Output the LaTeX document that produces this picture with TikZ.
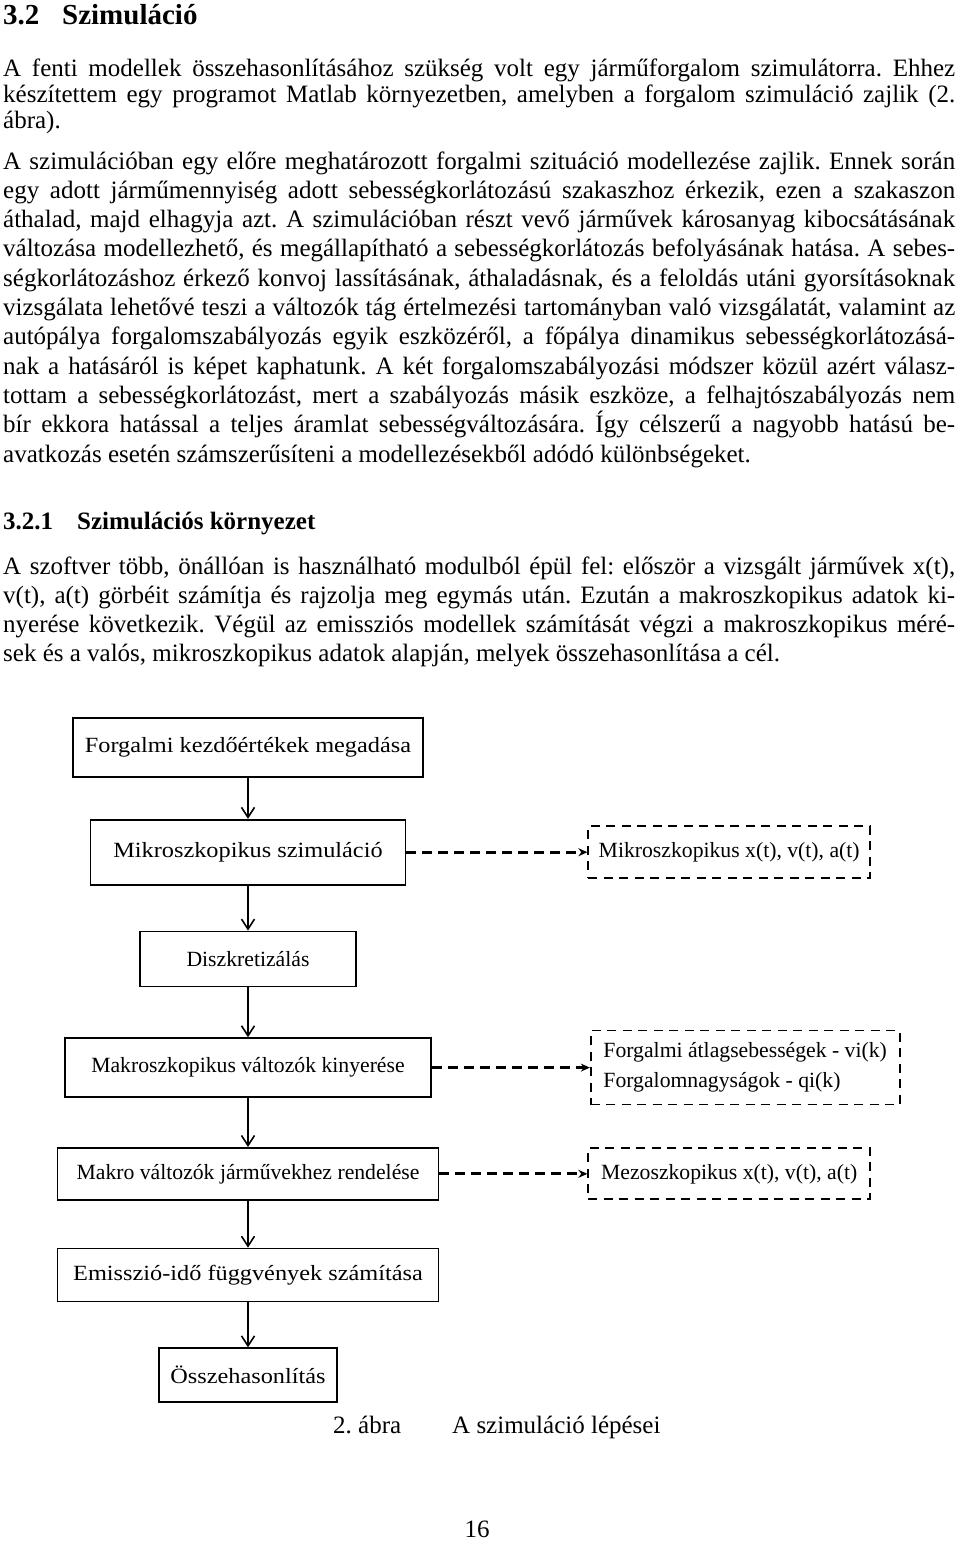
\documentclass[tikz,border=0pt]{standalone}
\usepackage{fontspec}
\setmainfont{Liberation Serif}
\newfontfamily\palfont[FakeStretch=1.12]{Liberation Serif}
\usetikzlibrary{positioning}
\usetikzlibrary{arrows.meta}

\newcommand{\jline}[1]{\noindent\makebox[\linewidth][s]{#1}\par}
\frenchspacing

\begin{document}
\begin{tikzpicture}[
        x=1pt, y=-1pt,
        para/.style={anchor=base west, inner sep=0pt, text width=952pt, align=justify, font=\fontsize{25}{29.3}\selectfont},
        box/.style={rectangle, draw=black, line width=1.7pt, inner sep=0pt, align=center, font=\fontsize{21.7}{26}\selectfont},
        palbox/.style={box, font=\fontsize{21.7}{26}\palfont},
        outbox/.style={box, dash pattern=on 9pt off 6.5pt},
        flow/.style={-{Straight Barb[length=10pt, width=13pt, line width=1.6pt]}, line width=2.8pt},
        dataflow/.style={-{Stealth[length=9pt, width=8pt]}, line width=3.2pt, dash pattern=on 10pt off 6pt}
    ]
    \useasboundingbox (0,0) rectangle (960,1543);

    % text of the page
    \node[anchor=base west, inner sep=0pt, font=\fontsize{29}{34}\bfseries] (sechead) at (3,24) {\makebox[59pt][l]{3.2}Szimuláció};
    \node[para, font=\fontsize{25}{26.2}\selectfont] (intro) at (3,76) {%
        \jline{A fenti modellek összehasonlításához szükség volt egy járműforgalom szimulátorra. Ehhez}
        \jline{készítettem egy programot Matlab környezetben, amelyben a forgalom szimuláció zajlik (2.}
        \noindent ábra).\par};
    \node[para] (simtext) at (3,169) {%
        \jline{A szimulációban egy előre meghatározott forgalmi szituáció modellezése zajlik. Ennek során}
        \jline{egy adott járműmennyiség adott sebességkorlátozású szakaszhoz érkezik, ezen a szakaszon}
        \jline{áthalad, majd elhagyja azt. A szimulációban részt vevő járművek károsanyag kibocsátásának}
        \jline{változása modellezhető, és megállapítható a sebességkorlátozás befolyásának hatása. A sebes-}
        \jline{ségkorlátozáshoz érkező konvoj lassításának, áthaladásnak, és a feloldás utáni gyorsításoknak}
        \jline{vizsgálata lehetővé teszi a változók tág értelmezési tartományban való vizsgálatát, valamint az}
        \jline{autópálya forgalomszabályozás egyik eszközéről, a főpálya dinamikus sebességkorlátozásá-}
        \jline{nak a hatásáról is képet kaphatunk. A két forgalomszabályozási módszer közül azért válasz-}
        \jline{tottam a sebességkorlátozást, mert a szabályozás másik eszköze, a felhajtószabályozás nem}
        \jline{bír ekkora hatással a teljes áramlat sebességváltozására. Így célszerű a nagyobb hatású be-}
        \noindent avatkozás esetén számszerűsíteni a modellezésekből adódó különbségeket.\par};
    \node[anchor=base west, inner sep=0pt, font=\fontsize{25}{30}\bfseries] (subhead) at (3,529) {\makebox[74pt][l]{3.2.1}Szimulációs környezet};
    \node[para] (envtext) at (3,574) {%
        \jline{A szoftver több, önállóan is használható modulból épül fel: először a vizsgált járművek x(t),}
        \jline{v(t), a(t) görbéit számítja és rajzolja meg egymás után. Ezután a makroszkopikus adatok ki-}
        \jline{nyerése következik. Végül az emissziós modellek számítását végzi a makroszkopikus méré-}
        \noindent sek és a valós, mikroszkopikus adatok alapján, melyek összehasonlítása a cél.\par};

    % steps of the simulation
    \node[palbox, minimum width=350pt, minimum height=59pt] (init) at (248,747.5) {Forgalmi kezdőértékek megadása};
    \node[palbox, minimum width=315pt, minimum height=65pt] (micro) [below=41pt of init] {Mikroszkopikus szimuláció};
    \node[box, minimum width=216pt, minimum height=55pt] (discr) [below=45pt of micro] {Diszkretizálás};
    \node[box, minimum width=366pt, minimum height=59pt] (macro) [below=50pt of discr] {Makroszkopikus változók kinyerése};
    \node[box, minimum width=381pt, minimum height=52pt] (assign) [below=49pt of macro] {Makro változók járművekhez rendelése};
    \node[palbox, minimum width=381pt, minimum height=53pt] (emis) [below=47pt of assign] {Emisszió-idő függvények számítása};
    \node[palbox, minimum width=178pt, minimum height=54pt] (comp) [below=45pt of emis] {Összehasonlítás};

    % outputs
    \node[outbox, minimum width=282pt, minimum height=52pt] (microout) [right=181pt of micro] {Mikroszkopikus x(t), v(t), a(t)};
    \node[outbox, minimum width=309pt, minimum height=74pt, align=left, font=\fontsize{21.7}{30}\selectfont] (macroout) [right=158pt of macro] {Forgalmi átlagsebességek - vi(k)\\Forgalomnagyságok - qi(k)};
    \node[outbox, minimum width=282pt, minimum height=51pt] (mesoout) [right=148pt of assign] {Mezoszkopikus x(t), v(t), a(t)};

    \draw[flow] (init) -- (micro);
    \draw[flow] (micro) -- (discr);
    \draw[flow] (discr) -- (macro);
    \draw[flow] (macro) -- (assign);
    \draw[flow] (assign) -- (emis);
    \draw[flow] (emis) -- (comp);

    \draw[dataflow] (micro) -- (microout);
    \draw[dataflow] (macro) -- (macroout);
    \draw[dataflow] (assign) -- (mesoout);

    % caption and page number
    \node[anchor=base west, inner sep=0pt, font=\fontsize{25}{30}\selectfont] (fignum) at (333,1433) {2. ábra};
    \node[anchor=base west, inner sep=0pt, font=\fontsize{25}{30}\selectfont] (figtitle) at (452,1433) {A szimuláció lépései};
    \node[anchor=base, inner sep=0pt, font=\fontsize{25}{30}\selectfont] (pagenum) at (477,1537) {16};
\end{tikzpicture}
\end{document}
